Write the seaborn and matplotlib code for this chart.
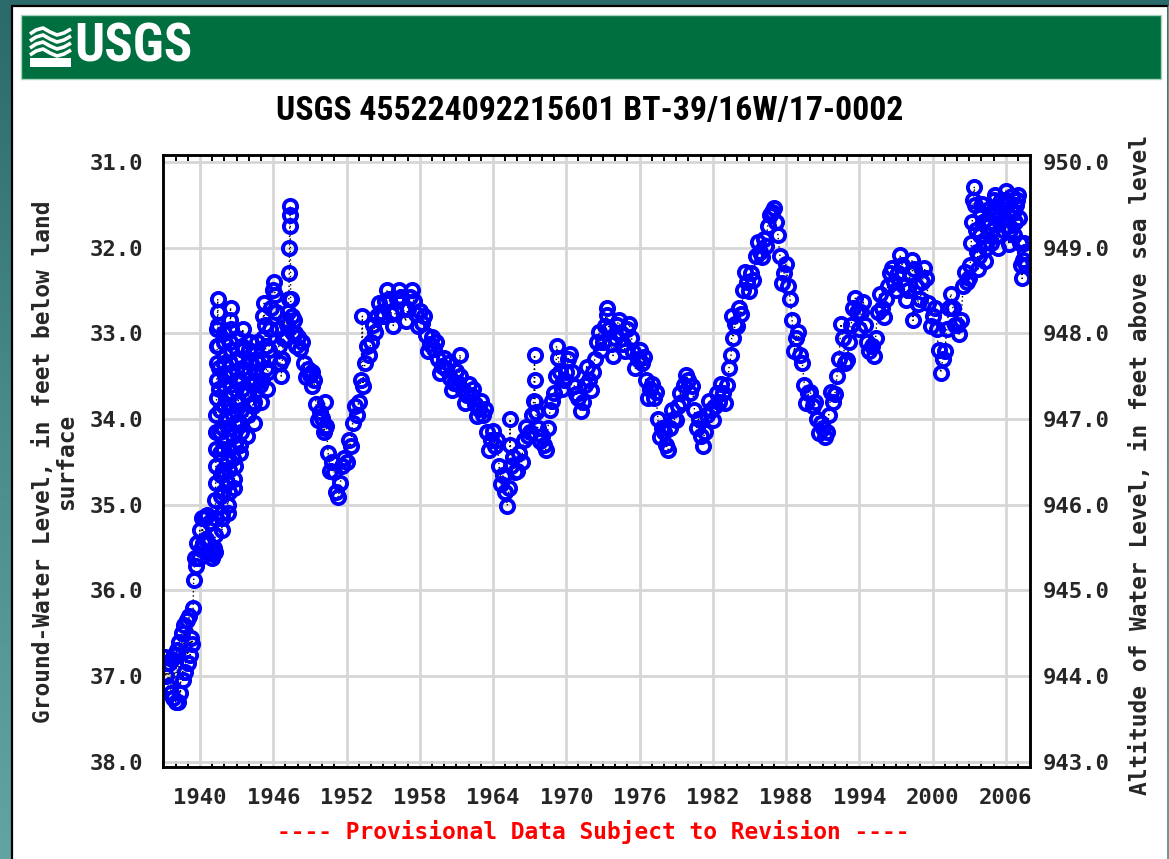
import numpy as np
import pandas as pd
import matplotlib
matplotlib.use("Agg")
import matplotlib.pyplot as plt
import seaborn as sns
from matplotlib.patches import Rectangle
from matplotlib.lines import Line2D
from matplotlib.colors import LinearSegmentedColormap
from matplotlib import font_manager as fm

# ---------------- data (depth to water, feet below land surface) ----------------
# 1937-1941: early record (times and readings)
early_years = [1937.10, 1937.20, 1937.30, 1937.40, 1937.50, 1937.60, 1937.70, 1937.80,
               1937.90, 1938.00, 1938.10, 1938.20, 1938.30, 1938.40, 1938.50, 1938.60,
               1938.70, 1938.80, 1938.90, 1939.00, 1939.10, 1939.20, 1939.30, 1939.38,
               1939.44, 1939.48, 1939.58, 1939.68, 1939.78, 1939.88, 1939.98, 1940.08,
               1940.18, 1940.28, 1940.38, 1940.48, 1940.58, 1940.68, 1940.78, 1940.88,
               1940.98, 1941.08, 1941.18]
early_depth = [36.78, 37.00, 36.85, 37.12, 36.85, 37.20, 36.80, 37.25,
               36.75, 37.30, 36.70, 37.30, 36.60, 37.20, 36.50, 37.05,
               36.40, 36.95, 36.35, 36.85, 36.30, 36.75, 36.55, 36.62,
               36.20, 35.88, 35.62, 35.72, 35.45, 35.62, 35.30, 35.52,
               35.15, 35.45, 35.15, 35.40, 35.12, 35.45, 35.20, 35.55,
               35.62, 35.58, 35.50]

# 1941-1948: large short-term swings, one stroke per entry (start, end, readings)
strokes = [
    (1941.22, 1941.45, [35.55, 35.35, 35.15, 34.95, 34.75, 34.55, 34.35, 34.15, 33.95,
                        33.75, 33.55, 33.35, 33.15, 32.95, 32.75, 32.60]),
    (1941.48, 1941.80, [32.90, 33.15, 33.40, 33.65, 33.90, 34.15, 34.40, 34.65, 34.90,
                        35.15, 35.30]),
    (1941.84, 1942.00, [35.10, 34.85, 34.60, 34.35, 34.10, 33.85, 33.60, 33.35, 33.10, 33.00]),
    (1942.03, 1942.30, [33.25, 33.50, 33.75, 34.00, 34.25, 34.50, 34.75, 35.00, 35.10]),
    (1942.34, 1942.50, [34.85, 34.60, 34.35, 34.10, 33.85, 33.60, 33.35, 33.10, 32.85, 32.70]),
    (1942.53, 1942.80, [32.95, 33.20, 33.45, 33.70, 33.95, 34.20, 34.45, 34.70, 34.80]),
    (1942.85, 1943.00, [34.55, 34.30, 34.05, 33.80, 33.55, 33.30, 33.05]),
    (1943.04, 1943.30, [33.30, 33.55, 33.80, 34.05, 34.30, 34.40]),
    (1943.35, 1943.50, [34.15, 33.90, 33.65, 33.40, 33.15, 32.95]),
    (1943.55, 1943.85, [33.20, 33.45, 33.70, 33.95, 34.20]),
    (1943.90, 1944.10, [33.95, 33.70, 33.45, 33.20, 33.10]),
    (1944.15, 1944.40, [33.35, 33.60, 33.85, 34.05]),
    (1944.45, 1944.70, [33.80, 33.55, 33.30, 33.10]),
    (1944.75, 1945.00, [33.35, 33.60, 33.80]),
    (1945.05, 1945.25, [33.55, 33.30, 33.05, 32.80, 32.65]),
    (1945.30, 1945.50, [32.90, 33.15, 33.40, 33.65]),
    (1945.55, 1946.05, [33.45, 33.20, 32.95, 32.70, 32.50, 32.40]),
    (1946.15, 1946.65, [32.55, 32.75, 32.95, 33.15, 33.35, 33.50]),
    (1946.75, 1947.28, [33.30, 33.05, 32.85, 33.05, 32.90, 32.75, 32.60]),
    (1947.31, 1947.39, [32.30, 32.00, 31.75, 31.62, 31.52]),
    (1947.42, 1947.90, [32.60, 32.80, 33.00, 32.85, 33.00, 33.15]),
]

# 1948-2002: six readings per year (Jan, Mar, May, Jul, Sep, Nov)
depth_1948_1959 = [33.04, 33.18, 33.10, 33.35, 33.51, 33.42,  33.49, 33.62, 33.55, 33.82, 34.01, 33.92,
                   33.99, 34.15, 34.08, 34.40, 34.61, 34.50,  34.62, 34.85, 34.91, 34.75, 34.55, 34.45,
                   34.50, 34.25, 34.32, 34.05, 33.85, 33.95,  33.80, 33.55, 33.62, 33.35, 33.15, 33.25,
                   33.10, 32.90, 32.98, 32.80, 32.65, 32.75,  32.80, 32.62, 32.49, 32.60, 32.78, 32.91,
                   32.75, 32.60, 32.49, 32.58, 32.72, 32.86,  32.72, 32.58, 32.49, 32.62, 32.78, 32.91,
                   32.74, 32.88, 32.80, 33.02, 33.21, 33.12,  33.04, 33.18, 33.10, 33.30, 33.46, 33.38]
depth_1960_1969 = [33.29, 33.42, 33.35, 33.52, 33.66, 33.58,  33.44, 33.58, 33.50, 33.66, 33.81, 33.72,
                   33.59, 33.72, 33.65, 33.82, 33.96, 33.88,  33.79, 33.95, 33.88, 34.15, 34.36, 34.25,
                   34.14, 34.32, 34.25, 34.55, 34.76, 34.65,  34.85, 35.01, 34.80, 34.55, 34.44, 34.62,
                   34.61, 34.40, 34.50, 34.25, 34.09, 34.20,  34.15, 33.95, 33.79, 33.92, 34.10, 34.26,
                   34.20, 34.30, 34.36, 34.10, 33.90, 33.79,  33.70, 33.50, 33.29, 33.45, 33.65, 33.55]
depth_1970_1979 = [33.45, 33.30, 33.24, 33.45, 33.62, 33.71,  33.75, 33.91, 33.80, 33.60, 33.39, 33.55,
                   33.66, 33.45, 33.30, 33.10, 32.99, 33.20,  33.10, 32.92, 32.79, 32.95, 33.12, 33.26,
                   33.05, 32.90, 32.84, 33.00, 33.12, 33.21,  32.95, 32.89, 33.05, 33.22, 33.41, 33.30,
                   33.19, 33.35, 33.28, 33.55, 33.76, 33.65,  33.59, 33.75, 33.68, 34.00, 34.21, 34.10,
                   34.15, 34.30, 34.36, 34.10, 33.89, 34.00,  34.01, 33.85, 33.70, 33.80, 33.60, 33.49]
depth_1980_1989 = [33.55, 33.70, 33.62, 33.90, 34.11, 34.00,  34.20, 34.31, 34.15, 33.95, 33.79, 33.90,
                   34.01, 33.85, 33.70, 33.80, 33.59, 33.70,  33.81, 33.60, 33.40, 33.25, 33.05, 32.89,
                   32.91, 32.70, 32.78, 32.50, 32.29, 32.40,  32.51, 32.30, 32.38, 32.10, 31.94, 32.05,
                   32.11, 31.90, 31.98, 31.75, 31.62, 31.59,  31.54, 31.70, 31.85, 32.10, 32.41, 32.30,
                   32.19, 32.45, 32.60, 32.85, 33.21, 33.05,  32.99, 33.25, 33.35, 33.60, 33.81, 33.70]
depth_1990_1999 = [33.69, 33.85, 33.80, 34.00, 34.16, 34.05,  34.10, 34.21, 34.15, 33.95, 33.69, 33.80,
                   33.71, 33.50, 33.30, 32.89, 33.05, 33.35,  33.31, 33.10, 32.90, 32.70, 32.59, 32.75,
                   32.95, 32.75, 32.64, 32.90, 33.10, 33.21,  33.15, 33.26, 33.05, 32.75, 32.54, 32.70,
                   32.81, 32.60, 32.45, 32.30, 32.24, 32.40,  32.50, 32.30, 32.09, 32.20, 32.45, 32.61,
                   32.50, 32.30, 32.14, 32.25, 32.45, 32.66,  32.60, 32.40, 32.24, 32.35, 32.65, 32.91]
depth_2000_2002 = [32.80, 32.70, 32.95, 33.20, 33.46, 33.30,  33.21, 32.95, 32.70, 32.54, 32.70, 32.90,
                   32.90, 33.01, 32.85, 32.45, 32.29, 32.40]
# 2003-2007: monthly readings
depth_2003_2007 = [32.36, 32.20, 31.95, 31.70, 31.45, 31.29, 31.50, 31.80, 32.05, 32.25, 32.10, 31.85,
                   31.60, 31.49, 31.70, 31.95, 32.16, 32.00, 31.75, 31.55, 31.70, 31.95, 31.80, 31.60,
                   31.45, 31.39, 31.60, 31.85, 32.01, 31.85, 31.60, 31.45, 31.55, 31.80, 31.65, 31.45,
                   31.34, 31.50, 31.75, 31.96, 31.80, 31.55, 31.40, 31.60, 31.85, 31.70, 31.50, 31.45,
                   31.39, 31.65, 31.95, 32.20, 32.36, 32.15, 31.95, 32.05, 32.20]

# isolated readings standing off the main band
extra_years = [1949.20, 1950.20, 1950.22, 1953.30, 1961.30, 1965.40, 1965.42, 1967.40,
               1967.42, 1967.44, 1969.20, 1973.30, 1983.60, 1998.40]
extra_depth = [33.45, 33.80, 34.10, 32.80, 33.25, 34.00, 34.30, 33.25,
               33.55, 33.80, 33.15, 32.70, 32.80, 32.85]

x_ticks = [1940, 1946, 1952, 1958, 1964, 1970, 1976, 1982, 1988, 1994, 2000, 2006]
y_ticks = [31.0, 32.0, 33.0, 34.0, 35.0, 36.0, 37.0, 38.0]
alt_ticks = [943.0, 944.0, 945.0, 946.0, 947.0, 948.0, 949.0, 950.0]
land_surface_altitude = 981.0

title = "USGS 455224092215601 BT-39/16W/17-0002"
left_label = "Ground-Water Level, in feet below land\nsurface"
right_label = "Altitude of Water Level, in feet above sea level"
footer = "---- Provisional Data Subject to Revision ----"

# ---------------- assemble ----------------
yrs = list(early_years) + list(extra_years)
dep = list(early_depth) + list(extra_depth)
for t0, t1, vals in strokes:
    yrs += list(np.linspace(t0, t1, len(vals)))
    dep += list(vals)
for start, per_year, vals in [(1948, 6, depth_1948_1959), (1960, 6, depth_1960_1969),
                              (1970, 6, depth_1970_1979), (1980, 6, depth_1980_1989),
                              (1990, 6, depth_1990_1999), (2000, 6, depth_2000_2002),
                              (2003, 12, depth_2003_2007)]:
    yrs += list(start + np.arange(len(vals)) / per_year)
    dep += list(vals)
df = pd.DataFrame({"year": yrs, "depth": dep}).sort_values("year").reset_index(drop=True)

# ---------------- styling ----------------
sns.set_theme(style="white")
names = {f.name for f in fm.fontManager.ttflist}
narrow = next((n for n in ["Liberation Sans Narrow", "DejaVu Sans Condensed", "Roboto Condensed",
                           "Liberation Sans"] if n in names), "DejaVu Sans")
mono = ["DejaVu Sans Mono"]
plt.rcParams["font.family"] = mono

W, H = 1169, 859
fig = plt.figure(figsize=(W / 100, H / 100), dpi=100)
fx = lambda x: x / W
fy = lambda y: 1 - y / H

# teal background gradient
bg = fig.add_axes([0, 0, 1, 1], zorder=-10)
cmap = LinearSegmentedColormap.from_list("teal", ["#2b6a6b", "#4a8b8b", "#62a3a3"])
bg.imshow(np.linspace(0, 1, 256).reshape(-1, 1), aspect="auto", cmap=cmap,
          extent=[0, 1, 0, 1], origin="upper")
bg.axis("off")

fig.add_artist(Rectangle((fx(12), 0), fx(1167) - fx(12), fy(6), transform=fig.transFigure,
                         fc="white", ec="none", zorder=-5))
fig.add_artist(Line2D([fx(11.5), fx(11.5)], [0, fy(5.5)], transform=fig.transFigure,
                      color="black", lw=1.6, zorder=-4))
fig.add_artist(Line2D([fx(11.5), fx(1167)], [fy(5.5), fy(5.5)], transform=fig.transFigure,
                      color="black", lw=1.6, zorder=-4))
fig.add_artist(Line2D([fx(1167.5), fx(1167.5)], [0, fy(5.5)], transform=fig.transFigure,
                      color="#8a8a8a", lw=1.0, zorder=-4))

# green banner
fig.add_artist(Rectangle((fx(21), fy(79)), fx(1161) - fx(21), fy(15) - fy(79),
                         transform=fig.transFigure, fc="#006f3f", ec="#a8d5bd", lw=1.0, zorder=-3))
# wave emblem
for y0 in [31, 38, 45, 52]:
    xs = [30, 36, 43, 50, 57, 64, 71]
    ys = [y0 + 3, y0 - 1, y0 - 3, y0 + 1, y0 + 4, y0 + 2, y0 - 2]
    fig.add_artist(Line2D([fx(v) for v in xs], [fy(v) for v in ys], transform=fig.transFigure,
                          color="white", lw=2.6, solid_capstyle="butt", zorder=-2))
fig.add_artist(Rectangle((fx(30), fy(67)), fx(71) - fx(30), fy(58) - fy(67),
                         transform=fig.transFigure, fc="white", ec="none", zorder=-2))
logo = fig.text(fx(74), fy(47), "USGS", color="white", fontsize=34, fontweight="bold",
                family=narrow, ha="left", va="center")

# title
ttl = fig.text(fx(590), fy(111), title, fontsize=24, fontweight="bold", family=narrow,
               ha="center", va="center", color="black")

# ---------------- main axes ----------------
ax = fig.add_axes([fx(163), fy(767), fx(1030) - fx(163), fy(155) - fy(767)])
ax.set_facecolor("white")
sns.lineplot(data=df, x="year", y="depth", sort=False, estimator=None, ax=ax,
             color="black", linestyle=(0, (1, 2)), linewidth=1.0,
             marker="o", markersize=9.5, markerfacecolor="none",
             markeredgecolor="#0000ff", markeredgewidth=2.8, zorder=3)

ax.set_xlim(1936.97, 2007.98)
ax.set_ylim(38.06, 30.92)
ax.set_xticks(x_ticks)
ax.set_xticklabels([str(v) for v in x_ticks])
ax.set_xticks(np.arange(1937, 2008), minor=True)
ax.set_yticks(y_ticks)
ax.set_yticklabels([f"{v:.1f}" for v in y_ticks])
ax.set_axisbelow(True)
ax.grid(True, which="major", color="#d6d6d6", linewidth=2.0)
ax.tick_params(axis="x", which="major", length=0, pad=15, labelsize=16)
ax.tick_params(axis="x", which="minor", direction="in", length=4, width=1.4,
               top=True, bottom=True, color="black")
ax.tick_params(axis="y", which="major", length=0, pad=14, labelsize=16)
for lab in ax.get_xticklabels() + ax.get_yticklabels():
    lab.set_fontweight("bold")
    lab.set_family(mono)
ax.set_xlabel("")
ax.set_ylabel("")
for s in ax.spines.values():
    s.set_color("black")
    s.set_linewidth(1.8)
    s.set_visible(True)

ax2 = ax.twinx()
ax2.set_ylim(land_surface_altitude - 38.06, land_surface_altitude - 30.92)
ax2.set_yticks(alt_ticks)
ax2.set_yticklabels([f"{v:.1f}" for v in alt_ticks])
ax2.tick_params(axis="y", length=0, pad=9, labelsize=16)
for lab in ax2.get_yticklabels():
    lab.set_fontweight("bold")
    lab.set_family(mono)
ax2.grid(False)
for s in ax2.spines.values():
    s.set_color("black")
    s.set_linewidth(1.8)

fig.text(fx(55), fy(462), left_label, rotation=90, ha="center", va="center",
         multialignment="center", fontsize=16.5, fontweight="bold", family=mono,
         linespacing=1.0)
fig.text(fx(1140), fy(465), right_label, rotation=90, ha="center", va="center",
         fontsize=16.5, fontweight="bold", family=mono)
foot = fig.text(fx(593), fy(832), footer, ha="center", va="center", color="#ff0000",
                fontsize=16.5, fontweight="bold", family=mono)

# size the banner/title text to the widths they occupy in the original
renderer = fig.canvas.get_renderer()
for txt, target in [(logo, 118), (ttl, 630)]:
    w = txt.get_window_extent(renderer=renderer).width
    txt.set_fontsize(txt.get_fontsize() * target / w)

fig.savefig("out.png", dpi=100)
